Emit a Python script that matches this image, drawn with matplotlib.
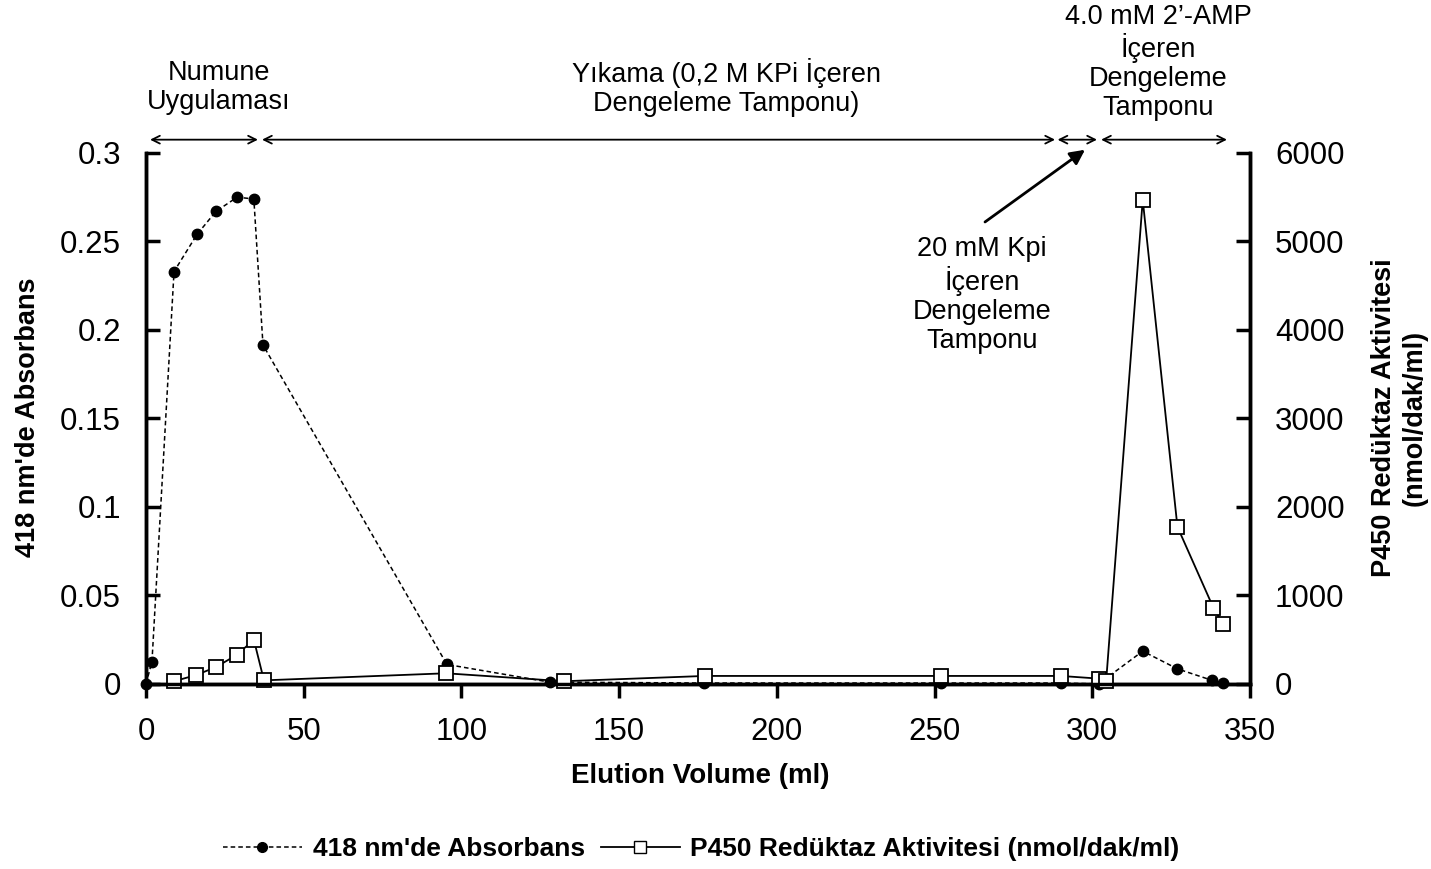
import matplotlib
matplotlib.use("Agg")
import matplotlib.pyplot as plt
from matplotlib.lines import Line2D

plt.rcParams["font.family"] = ["Liberation Sans", "DejaVu Sans"]

# 418 nm absorbans (sol eksen)
abs_ml = [0, 1.9, 8.9, 16.2, 22.2, 28.9, 34.2, 37.1, 95.4, 128, 177, 252, 290, 302, 316, 327, 338, 341.5]
abs_val = [0.0, 0.0125, 0.233, 0.254, 0.267, 0.275, 0.274, 0.1915, 0.011, 0.001, 0.0005, 0.0005,
           0.0005, 0.0, 0.0185, 0.0085, 0.002, 0.0005]

# P450 reduktaz aktivitesi (sag eksen)
act_ml = [8.9, 15.9, 22.2, 28.9, 34.2, 37.4, 95.1, 132.5, 177.2, 252, 290, 302, 304.4, 316, 327, 338.4, 341.5]
act_val = [30, 100, 190, 330, 500, 40, 120, 30, 90, 90, 90, 60, 30, 5470, 1775, 860, 680]

x_ticks = [0, 50, 100, 150, 200, 250, 300, 350]
left_ticks = [0, 0.05, 0.1, 0.15, 0.2, 0.25, 0.3]
left_labels = ["0", "0.05", "0.1", "0.15", "0.2", "0.25", "0.3"]
right_ticks = [0, 1000, 2000, 3000, 4000, 5000, 6000]

# faz araliklari (ml) ve basliklari
phase_spans = [(1.3, 35.5), (36.8, 288.2), (289.0, 301.5), (302.8, 342.7)]
phase_labels = [(23, 1.124, "Numune\nUygulaması"),
                (184, 1.124, "Yıkama (0,2 M KPi İçeren\nDengeleme Tamponu)"),
                (321, 1.170, "4.0 mM 2’-AMP\nİçeren\nDengeleme\nTamponu")]

fig = plt.figure(figsize=(14.31, 8.69), dpi=100)
ax = fig.add_axes([0.102, 0.213, 0.7715, 0.611])
ax2 = ax.twinx()

ax.plot(abs_ml, abs_val, color="black", linestyle=(0, (3, 2)), linewidth=1.1,
        marker="o", markersize=7.5, markerfacecolor="black", markeredgecolor="black",
        clip_on=False, zorder=3)
ax2.plot(act_ml, act_val, color="black", linestyle="-", linewidth=1.3,
         marker="s", markersize=9.5, markerfacecolor="white", markeredgecolor="black",
         markeredgewidth=1.3, clip_on=False, zorder=2)

ax.set_xlim(0, 350)
ax.set_ylim(0, 0.3)
ax2.set_ylim(0, 6000)
ax.set_xticks(x_ticks)
ax.set_yticks(left_ticks)
ax.set_yticklabels(left_labels)
ax2.set_yticks(right_ticks)

for a in (ax, ax2):
    a.spines["top"].set_visible(False)
    for s in ("left", "right", "bottom"):
        a.spines[s].set_linewidth(2.5)
ax.tick_params(axis="x", direction="out", length=10, width=2.5, labelsize=22.5, pad=14)
ax.tick_params(axis="y", direction="in", length=10, width=2.5, labelsize=22.5, pad=18)
ax2.tick_params(axis="y", direction="in", length=10, width=2.5, labelsize=22.5, pad=18)

# eksen basliklari
fig.text(0.489, 0.107, "Elution Volume (ml)", fontsize=20, fontweight="bold",
         ha="center", va="center")
fig.text(0.0196, 0.5196, "418 nm'de Absorbans", fontsize=19.5, fontweight="bold",
         rotation=90, ha="center", va="center")
fig.text(0.978, 0.5196, "P450 Redüktaz Aktivitesi\n(nmol/dak/ml)", fontsize=19.5,
         fontweight="bold", rotation=90, ha="center", va="center", linespacing=1.25)

# ust kisimdaki faz oklari
trans = ax.get_xaxis_transform()
for x0, x1 in phase_spans:
    ax.annotate("", xy=(x0, 1.025), xytext=(x1, 1.025), xycoords=trans, textcoords=trans,
                arrowprops=dict(arrowstyle="<->", color="black", lw=1.3,
                                shrinkA=0, shrinkB=0, mutation_scale=14),
                annotation_clip=False)

for xc, yc, txt in phase_labels:
    ax.text(xc, yc, txt, transform=trans, ha="center", va="center", fontsize=19.5,
            linespacing=1.15)

ax.text(265.1, 0.7326, "20 mM Kpi\nİçeren\nDengeleme\nTamponu", transform=trans,
        ha="center", va="center", fontsize=19.5, linespacing=1.15)
ax.annotate("", xy=(297.7, 1.006), xycoords=trans, xytext=(266.0, 0.870), textcoords=trans,
            annotation_clip=False,
            arrowprops=dict(arrowstyle="-|>", color="black", lw=2, shrinkA=0, shrinkB=0,
                            mutation_scale=22))

handles = [
    Line2D([], [], color="black", linestyle=(0, (3, 2)), linewidth=1.1, marker="o",
           markersize=7, markerfacecolor="black"),
    Line2D([], [], color="black", linestyle="-", linewidth=1.3, marker="s", markersize=9,
           markerfacecolor="white", markeredgecolor="black"),
]
fig.legend(handles, ["418 nm'de Absorbans", "P450 Redüktaz Aktivitesi (nmol/dak/ml)"],
           loc="center", bbox_to_anchor=(0.49, 0.023), ncol=2, frameon=False,
           prop={"size": 19, "weight": "bold"}, handlelength=3, columnspacing=0.6,
           handletextpad=0.4)

fig.savefig("out.png", dpi=100)
